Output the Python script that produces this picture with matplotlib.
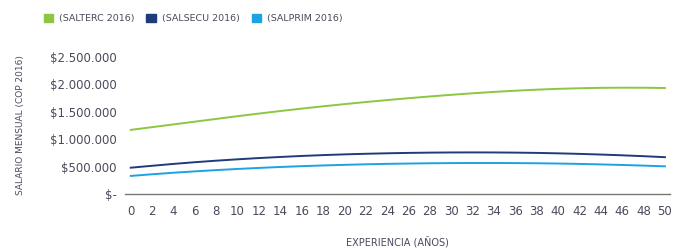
import matplotlib
matplotlib.use("Agg")
import matplotlib.pyplot as plt
from matplotlib.ticker import FuncFormatter

# years of experience
years = list(range(0, 51, 2))

# monthly salary, COP 2016
salterc = [1170000, 1220000, 1270000, 1320000, 1370000, 1420000, 1468000, 1514000,
           1558000, 1600000, 1640000, 1678000, 1714000, 1748000, 1780000, 1810000,
           1838000, 1863000, 1885000, 1904000, 1919000, 1930000, 1937000, 1940000,
           1939000, 1934000]
salsecu = [480000, 515000, 549000, 580000, 608000, 633000, 656000, 676000, 694000,
           710000, 723000, 734000, 743000, 750000, 755000, 758000, 759000, 758000,
           755000, 750000, 742000, 732000, 720000, 706000, 690000, 672000]
salprim = [330000, 360000, 388000, 413000, 436000, 457000, 476000, 493000, 508000,
           521000, 532000, 542000, 550000, 556000, 561000, 564000, 566000, 566000,
           564000, 561000, 556000, 549000, 540000, 530000, 518000, 505000]

series = ["(SALTERC 2016)", "(SALSECU 2016)", "(SALPRIM 2016)"]
colors = ["#8dc63f", "#1f3c78", "#1ca3e3"]
yticks = [0, 500000, 1000000, 1500000, 2000000, 2500000]
txt = "#4a4a5c"


def money(v, pos):
    if v == 0:
        return "$-"
    return "$" + f"{int(v):,}".replace(",", ".")


fig = plt.figure(figsize=(6.75, 2.5), dpi=100)
ax = fig.add_axes([0.185, 0.224, 0.808, 0.548])

for vals, c, lab in zip([salterc, salsecu, salprim], colors, series):
    ax.plot(years, vals, color=c, lw=1.4, label=lab)

ax.set_xlim(-0.55, 50.5)
ax.set_ylim(0, 2500000)
ax.set_xticks(years)
ax.set_yticks(yticks)
ax.yaxis.set_major_formatter(FuncFormatter(money))
ax.tick_params(length=0, labelsize=8.5, colors=txt)
ax.tick_params(axis="x", pad=8)
ax.tick_params(axis="y", pad=6)

for s in ["top", "right", "left"]:
    ax.spines[s].set_visible(False)
ax.spines["bottom"].set_color("#777777")
ax.spines["bottom"].set_linewidth(1.0)

ax.set_xlabel("EXPERIENCIA (AÑOS)", fontsize=7, color=txt, labelpad=14)
fig.text(0.03, 0.5, "SALARIO MENSUAL (COP 2016)", rotation=90, fontsize=6.5,
         color=txt, ha="center", va="center")

fig.legend(loc="upper left", bbox_to_anchor=(0.052, 0.98), ncol=3, frameon=False,
           fontsize=6.8, handlelength=1.0, handleheight=1.0, columnspacing=1.3,
           handletextpad=0.6, labelcolor=txt,
           handles=[plt.Rectangle((0, 0), 1, 1, color=c) for c in colors],
           labels=series)

fig.savefig("out.png", dpi=100)
